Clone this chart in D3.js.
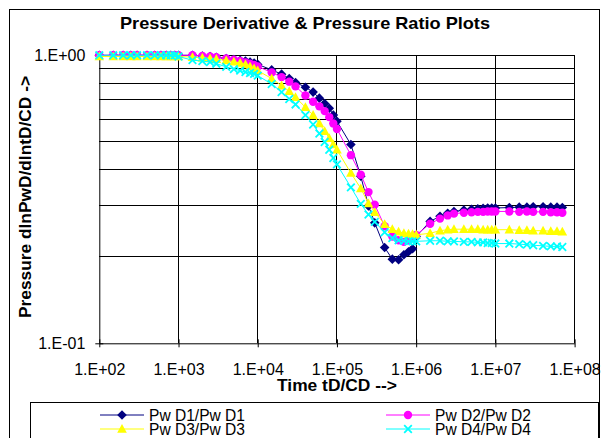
<!DOCTYPE html>
<html>
<head>
<meta charset="utf-8">
<script src="https://cdn.jsdelivr.net/npm/d3@7"></script>
<style>
  body { margin: 0; background: #fff; }
  svg { display: block; font-family: "Liberation Sans", Arial, sans-serif; }
</style>
</head>
<body>
<div id="chart"></div>
<script>
// time tD/CD sample points
const timeTD = [
  1e2, 1.5e2, 2e2, 2.5e2, 3e2, 4e2, 5e2, 6e2, 7e2, 8e2, 9e2,
  1e3, 1.5e3, 2e3, 2.5e3, 3e3, 4e3, 5e3, 6e3, 7e3, 8e3, 9e3,
  1e4, 1.5e4, 2e4, 2.5e4, 3e4, 4e4, 5e4, 6e4, 7e4, 8e4, 9e4,
  1e5, 1.5e5, 2e5, 2.5e5, 3e5, 4e5, 5e5, 6e5, 7e5, 8e5, 9e5,
  1e6, 1.5e6, 2e6, 2.5e6, 3e6, 4e6, 5e6, 6e6, 7e6, 8e6, 9e6,
  1e7, 1.5e7, 2e7, 2.5e7, 3e7, 4e7, 5e7, 6e7, 7e7
];

const pwD1 = [
  1.00, 1.00, 1.00, 1.00, 1.00, 1.00, 1.00, 1.00, 1.00, 1.00, 1.00,
  1.00, 1.00, 0.995, 0.99, 0.985, 0.975, 0.967, 0.96, 0.955, 0.948, 0.94,
  0.93, 0.89, 0.86, 0.83, 0.805, 0.775, 0.745, 0.71, 0.68, 0.655, 0.62,
  0.59, 0.49, 0.38, 0.30, 0.262, 0.215, 0.196, 0.195, 0.203, 0.208, 0.213,
  0.235, 0.265, 0.276, 0.283, 0.287, 0.29, 0.292, 0.293, 0.294, 0.295, 0.295,
  0.295, 0.296, 0.297, 0.297, 0.298, 0.298, 0.297, 0.297, 0.296
];
const pwD2 = [
  1.00, 1.00, 1.00, 1.00, 1.00, 1.00, 1.00, 1.00, 1.00, 1.00, 1.00,
  1.00, 1.00, 0.995, 0.99, 0.985, 0.975, 0.965, 0.955, 0.945, 0.935, 0.925,
  0.915, 0.872, 0.84, 0.81, 0.78, 0.725, 0.69, 0.665, 0.64, 0.61, 0.58,
  0.555, 0.45, 0.385, 0.335, 0.303, 0.255, 0.235, 0.228, 0.225, 0.228, 0.233,
  0.238, 0.26, 0.271, 0.278, 0.282, 0.284, 0.285, 0.286, 0.286, 0.287, 0.287,
  0.287, 0.287, 0.286, 0.287, 0.286, 0.286, 0.285, 0.285, 0.284
];
const pwD3 = [
  0.99, 0.99, 0.99, 0.99, 0.99, 0.99, 0.99, 0.99, 0.99, 0.99, 0.99,
  0.99, 0.985, 0.98, 0.975, 0.97, 0.96, 0.95, 0.94, 0.93, 0.915, 0.90,
  0.885, 0.83, 0.785, 0.75, 0.715, 0.66, 0.62, 0.58, 0.545, 0.515, 0.49,
  0.47, 0.39, 0.345, 0.306, 0.285, 0.259, 0.249, 0.244, 0.241, 0.24, 0.239,
  0.238, 0.241, 0.246, 0.248, 0.249, 0.249, 0.249, 0.249, 0.248, 0.248, 0.248,
  0.248, 0.248, 0.247, 0.247, 0.246, 0.246, 0.245, 0.245, 0.244
];
const pwD4 = [
  1.00, 1.00, 1.00, 1.00, 1.00, 1.00, 1.00, 1.00, 1.00, 1.00, 1.00,
  0.99, 0.962, 0.955, 0.948, 0.935, 0.912, 0.895, 0.885, 0.875, 0.868, 0.862,
  0.85, 0.795, 0.745, 0.705, 0.675, 0.62, 0.575, 0.535, 0.50, 0.47, 0.44,
  0.418, 0.348, 0.305, 0.28, 0.264, 0.243, 0.232, 0.228, 0.227, 0.226, 0.226,
  0.226, 0.227, 0.227, 0.226, 0.226, 0.225, 0.225, 0.224, 0.224, 0.223, 0.223,
  0.222, 0.222, 0.221, 0.22, 0.219, 0.218, 0.217, 0.217, 0.216
];

const seriesNames = ["Pw D1/Pw D1", "Pw D2/Pw D2", "Pw D3/Pw D3", "Pw D4/Pw D4"];
const xTicks = [1e2, 1e3, 1e4, 1e5, 1e6, 1e7, 1e8];
const xTickLabels = ["1.E+02", "1.E+03", "1.E+04", "1.E+05", "1.E+06", "1.E+07", "1.E+08"];
const yTicks = [0.1, 1];
const yTickLabels = ["1.E-01", "1.E+00"];
const yGrid = [0.2, 0.3, 0.4, 0.5, 0.6, 0.7, 0.8, 0.9, 1];

const series = [
  { name: seriesNames[0], values: pwD1, color: "#000080", marker: "diamond" },
  { name: seriesNames[1], values: pwD2, color: "#ff00ff", marker: "circle" },
  { name: seriesNames[2], values: pwD3, color: "#ffff00", marker: "triangle" },
  { name: seriesNames[3], values: pwD4, color: "#00ffff", marker: "cross" }
];

const W = 602, H = 438;
const svg = d3.select("#chart").append("svg").attr("width", W).attr("height", H);

// chart frame
svg.append("rect").attr("x", 9.5).attr("y", 9.5).attr("width", 590).attr("height", 440)
  .attr("fill", "#fff").attr("stroke", "#000");

const x = d3.scaleLog().domain([1e2, 1e8]).range([99.3, 574.6]);
const y = d3.scaleLog().domain([0.1, 1]).range([343.3, 55.3]);

// gridlines
const grid = svg.append("g").attr("stroke", "#000").attr("shape-rendering", "crispEdges");
grid.selectAll(".hg").data(yGrid).join("line")
  .attr("x1", x(1e2)).attr("x2", x(1e8))
  .attr("y1", d => y(d)).attr("y2", d => y(d));
grid.selectAll(".vg").data(xTicks.slice(1)).join("line")
  .attr("x1", d => x(d)).attr("x2", d => x(d))
  .attr("y1", y(1)).attr("y2", y(0.1));

// axes (cross ticks)
const xAxis = svg.append("g").attr("transform", `translate(0,${y(0.1)})`)
  .call(d3.axisBottom(x).tickValues(xTicks).tickFormat((d, i) => xTickLabels[i])
    .tickSizeInner(4).tickSizeOuter(0).tickPadding(16));
xAxis.select(".domain").attr("stroke", "#000");
xAxis.selectAll(".tick line").attr("y1", -4).attr("y2", 4);
xAxis.selectAll("text").attr("font-size", 16).attr("fill", "#000")
  .attr("font-family", "Liberation Sans, Arial, sans-serif");

const yAxis = svg.append("g").attr("transform", `translate(${x(1e2)},0)`)
  .call(d3.axisLeft(y).tickValues(yTicks).tickFormat((d, i) => yTickLabels[i])
    .tickSizeInner(4).tickSizeOuter(0).tickPadding(10));
yAxis.selectAll(".tick line").attr("x1", -4).attr("x2", 4);
yAxis.selectAll("text").attr("font-size", 16).attr("fill", "#000")
  .attr("font-family", "Liberation Sans, Arial, sans-serif");

// markers
function marker(g, type, color) {
  if (type === "diamond") {
    g.append("path").attr("d", "M0,-4.8L4.8,0L0,4.8L-4.8,0Z").attr("fill", color);
  } else if (type === "circle") {
    g.append("circle").attr("r", 4.2).attr("fill", color);
  } else if (type === "triangle") {
    g.append("path").attr("d", "M0,-5L4.8,3.8L-4.8,3.8Z").attr("fill", color);
  } else {
    g.append("path").attr("d", "M-3.8,-3.8L3.8,3.8M-3.8,3.8L3.8,-3.8")
      .attr("stroke", color).attr("stroke-width", 1.8).attr("fill", "none");
  }
}

const line = d3.line().x(d => x(d[0])).y(d => y(d[1]));

series.forEach(s => {
  const pts = timeTD.map((t, i) => [t, s.values[i]]);
  const g = svg.append("g");
  g.append("path").datum(pts).attr("d", line)
    .attr("fill", "none").attr("stroke", s.color).attr("stroke-width", 1);
  g.selectAll(".m").data(pts).join("g")
    .attr("transform", d => `translate(${x(d[0])},${y(d[1])})`)
    .each(function () { marker(d3.select(this), s.marker, s.color); });
});

// titles
svg.append("text").attr("x", 305).attr("y", 29).attr("text-anchor", "middle")
  .attr("font-size", 17).attr("font-weight", "bold")
  .attr("textLength", 370).attr("lengthAdjust", "spacingAndGlyphs")
  .text("Pressure Derivative & Pressure Ratio Plots");

svg.append("text").attr("x", 337).attr("y", 391).attr("text-anchor", "middle")
  .attr("font-size", 17).attr("font-weight", "bold")
  .attr("textLength", 120).attr("lengthAdjust", "spacingAndGlyphs")
  .text("Time tD/CD -->");

svg.append("text").attr("transform", "translate(31,197) rotate(-90)")
  .attr("text-anchor", "middle").attr("font-size", 17).attr("font-weight", "bold")
  .attr("textLength", 242).attr("lengthAdjust", "spacingAndGlyphs")
  .text("Pressure dlnPwD/dlntD/CD ->");

// legend
svg.append("rect").attr("x", 30.5).attr("y", 402.5).attr("width", 568).attr("height", 50)
  .attr("fill", "#fff").attr("stroke", "#000");
const legPos = [[100, 415], [386, 415], [100, 429], [386, 429]];
series.forEach((s, i) => {
  const [lx, ly] = legPos[i];
  const g = svg.append("g");
  g.append("line").attr("x1", lx).attr("x2", lx + 44).attr("y1", ly).attr("y2", ly)
    .attr("stroke", s.color).attr("stroke-width", 1);
  const m = g.append("g").attr("transform", `translate(${lx + 22},${ly})`);
  marker(m, s.marker, s.color);
  g.append("text").attr("x", lx + 49).attr("y", ly + 5.5).attr("font-size", 16)
    .attr("textLength", 96).attr("lengthAdjust", "spacingAndGlyphs")
    .text(s.name);
});
</script>
</body>
</html>
